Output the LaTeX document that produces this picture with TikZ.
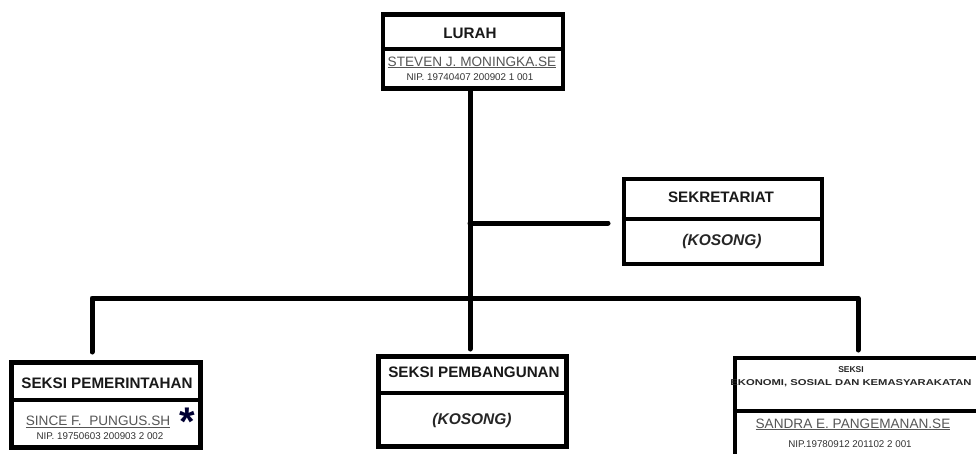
\documentclass[tikz,border=0pt]{standalone}
\usepackage{fontspec}
\setmainfont{Liberation Sans}
\definecolor{namegray}{HTML}{555555}
\definecolor{nipgray}{HTML}{333333}
\begin{document}
\begin{tikzpicture}[x=1pt,y=-1pt,
  box/.style={draw=black,line width=4.5pt,inner sep=0pt,fill=none},
  divider/.style={line width=4.5pt},
  conn/.style={line width=5pt,line cap=round,line join=round},
  title/.style={inner sep=0pt,font=\fontsize{15.2}{16}\selectfont\bfseries,text=black!90},
  kosong/.style={inner sep=0pt,font=\fontsize{15.5}{16}\selectfont\bfseries\itshape,text=black!85},
  person/.style={inner sep=0pt,font=\fontsize{13.6}{15}\selectfont,text=namegray},
  nip/.style={inner sep=0pt,font=\fontsize{9.8}{11}\selectfont,text=nipgray}]
\useasboundingbox (0,0) rectangle (976,453);
\clip (0,0) rectangle (976,453);
\fill[white] (0,0) rectangle (976,453);

% boxes
\node[box,minimum width=180pt,minimum height=74pt] (lurah) at (473,51.5) {};
\node[box,minimum width=198pt,minimum height=85pt] (sekr) at (723,221.5) {};
\node[box,minimum width=189pt,minimum height=85pt] (pem) at (106,405) {};
\node[box,minimum width=188pt,minimum height=90pt] (pemb) at (472.5,401.5) {};
\node[box,minimum width=255pt,minimum height=112pt] (eko) at (862.5,414) {};

% dividers
\coordinate (d1) at (0,49);
\coordinate (d2) at (0,219);
\coordinate (d3) at (0,400);
\coordinate (d4) at (0,393);
\coordinate (d5) at (0,411);
\draw[divider] (lurah.west |- d1) -- (lurah.east |- d1);
\draw[divider] (sekr.west |- d2) -- (sekr.east |- d2);
\draw[divider] (pem.west |- d3) -- (pem.east |- d3);
\draw[divider] (pemb.west |- d4) -- (pemb.east |- d4);
\draw[divider] (eko.west |- d5) -- (eko.east |- d5);

% connectors
\coordinate (vtop) at (470,89);
\coordinate (vbot) at (470,349);
\coordinate (sj) at (470,223);
\coordinate (se) at (608,223);
\coordinate (bl) at (92,352);
\coordinate (bL) at (92,298);
\coordinate (bR) at (858,298);
\coordinate (br) at (858,350);
\draw[conn] (vtop) -- (vbot);
\draw[conn] (sj) -- (se);
\draw[conn] (bl) -- (bL) -- (bR) -- (br);

% texts: LURAH
\node[title] (t1) at (470,33) {LURAH};
\node[person,anchor=base] (n1) at (472,66) {\underline{STEVEN J. MONINGKA.SE}};
\node[nip,anchor=base] (p1) at (470,80.5) {NIP. 19740407 200902 1 001};

% SEKRETARIAT
\node[title] (t2) at (721,197) {SEKRETARIAT};
\node[kosong] (k2) at (722,241) {(KOSONG)};

% SEKSI PEMERINTAHAN
\node[title] (t3) at (107,383) {SEKSI PEMERINTAHAN};
\node[person,anchor=base] (n3) at (98,425.5) {\underline{SINCE F.\ \ PUNGUS.SH}};
\node[nip,anchor=base] (p3) at (100,439.5) {NIP. 19750603 200903 2 002};
\node[inner sep=0pt,font=\fontsize{40}{40}\selectfont\bfseries,text=black!80!blue,anchor=base] (ast) at (187,435) {*};

% SEKSI PEMBANGUNAN
\node[title] (t4) at (474,372) {SEKSI PEMBANGUNAN};
\node[kosong] (k4) at (472,420) {(KOSONG)};

% SEKSI EKONOMI
\node[inner sep=0pt,font=\fontsize{8.5}{9}\selectfont\bfseries,text=black!85] (t5a) at (851,370) {SEKSI};
\node[inner sep=0pt,font=\fontsize{8.5}{9}\selectfont\bfseries,text=black!85] (t5b) at (851,383) {\scalebox{1.32}[1]{EKONOMI, SOSIAL DAN KEMASYARAKATAN}};
\node[person,anchor=base] (n5) at (853,428) {\underline{SANDRA E.\ PANGEMANAN.SE}};
\node[nip,anchor=base] (p5) at (850,447) {NIP.19780912 201102 2 001};
\end{tikzpicture}
\end{document}
